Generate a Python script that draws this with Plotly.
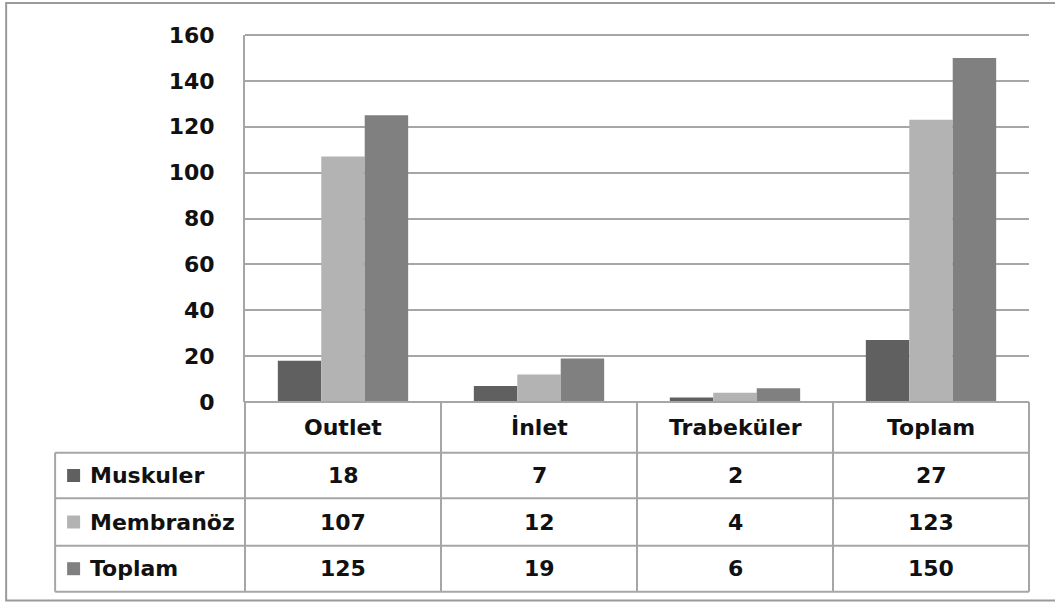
import plotly.graph_objects as go

# Chart data
categories = ["Outlet", "İnlet", "Trabeküler", "Toplam"]
series_names = ["Muskuler", "Membranöz", "Toplam"]
muskuler = [18, 7, 2, 27]
membranoz = [107, 12, 4, 123]
toplam = [125, 19, 6, 150]
y_ticks = [0, 20, 40, 60, 80, 100, 120, 140, 160]

series_values = [muskuler, membranoz, toplam]
series_colors = ["#606060", "#b3b3b3", "#808080"]

W, H = 1055, 603
# Plot area in pixels
L, R, T, B = 245, 1029.5, 35, 402
# Table geometry in pixels
label_left = 55
row_lines = [452.7, 498.3, 545.7, 591.7]
grid_color = "#a6a6a6"
FONT = "DejaVu Sans"


def px_x(p):
    return (p - L) / (R - L)


def px_y(p):
    return (B - p) / (B - T)


fig = go.Figure()
for name, vals, col in zip(series_names, series_values, series_colors):
    fig.add_trace(go.Bar(
        x=categories, y=vals, name=name,
        marker=dict(color=col, line=dict(width=0)),
        showlegend=False,
    ))

shapes = []


def hline(y, x0, x1, color=grid_color, width=2, layer="above"):
    shapes.append(dict(type="line", xref="paper", yref="paper",
                       x0=px_x(x0), x1=px_x(x1), y0=px_y(y), y1=px_y(y),
                       line=dict(color=color, width=width), layer=layer))


def vline(x, y0, y1, color=grid_color, width=2):
    shapes.append(dict(type="line", xref="paper", yref="paper",
                       x0=px_x(x), x1=px_x(x), y0=px_y(y0), y1=px_y(y1),
                       line=dict(color=color, width=width)))


# Top gridline at the upper end of the value range
hline(T, L, R, layer="below")

# Data table grid
hline(B, L, R)
for y in row_lines:
    hline(y, label_left, R)
vline(label_left, row_lines[0], row_lines[-1])
col_w = (R - L) / len(categories)
for i in range(len(categories) + 1):
    vline(L + i * col_w, B, row_lines[-1])

# Outer chart border
shapes.append(dict(type="rect", xref="paper", yref="paper",
                   x0=px_x(6), x1=px_x(1062), y0=px_y(3), y1=px_y(600.5),
                   line=dict(color="#9a9a9a", width=2), layer="below"))

annotations = []
text_font = dict(family=FONT, size=22, color="#111111")

# Header row: category names
for i, c in enumerate(categories):
    annotations.append(dict(xref="paper", yref="paper",
                            x=px_x(L + (i + 0.5) * col_w), y=px_y((B + row_lines[0]) / 2),
                            text=f"<b>{c}</b>", showarrow=False, font=text_font,
                            xanchor="center", yanchor="middle"))

# Series rows: legend key, name and values
for r, (name, vals, col) in enumerate(zip(series_names, series_values, series_colors)):
    y_top, y_bot = row_lines[r], row_lines[r + 1]
    yc = (y_top + y_bot) / 2
    shapes.append(dict(type="rect", xref="paper", yref="paper",
                       x0=px_x(67), x1=px_x(80), y0=px_y(yc - 6.5), y1=px_y(yc + 6.5),
                       fillcolor=col, line=dict(width=0)))
    annotations.append(dict(xref="paper", yref="paper", x=px_x(88), y=px_y(yc),
                            text=f"<b>{name}</b>", showarrow=False, font=text_font,
                            xanchor="left", yanchor="middle"))
    for i, v in enumerate(vals):
        annotations.append(dict(xref="paper", yref="paper",
                                x=px_x(L + (i + 0.5) * col_w), y=px_y(yc),
                                text=f"<b>{v}</b>", showarrow=False, font=text_font,
                                xanchor="center", yanchor="middle"))

fig.update_layout(
    width=W, height=H,
    margin=dict(l=L, r=W - R, t=T, b=H - B, pad=0),
    paper_bgcolor="white", plot_bgcolor="white",
    barmode="group", bargap=0.335, bargroupgap=0,
    shapes=shapes, annotations=annotations,
    xaxis=dict(showticklabels=False, showgrid=False, zeroline=False,
               showline=False, ticks=""),
    yaxis=dict(range=[0, 160], tickvals=y_ticks,
               ticktext=[f"<b>{t}</b>" for t in y_ticks],
               tickfont=dict(family=FONT, size=22, color="#111111"),
               showgrid=True, gridcolor=grid_color, gridwidth=2,
               zeroline=False, showline=True, linecolor=grid_color, linewidth=2,
               ticks="", ticklabelstandoff=24),
)

fig.write_html("out.html")
